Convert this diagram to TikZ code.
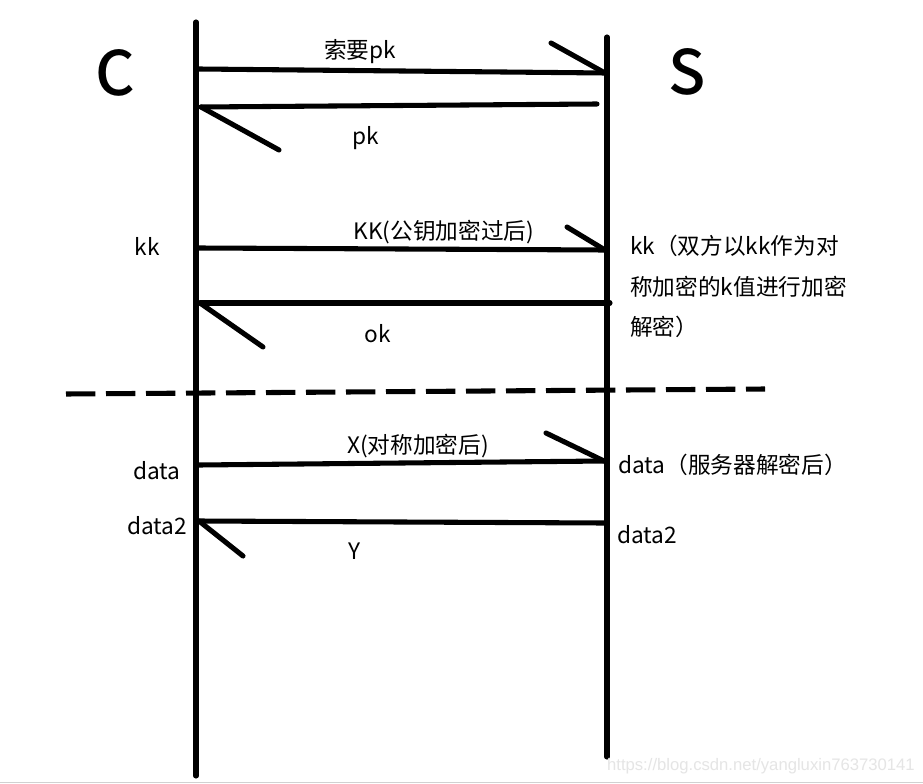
\documentclass[tikz,border=0pt]{standalone}
\usepackage{fontspec}
\setmainfont{Noto Sans CJK SC}
\newfontfamily\wmfont{Liberation Sans}
\newfontfamily\medfont{Noto Sans CJK SC Medium}
\begin{document}
\begin{tikzpicture}[x=0.75pt,y=-0.75pt,
  life/.style={line width=3.8pt,line cap=round},
  msg/.style={line width=3.8pt,line cap=round},
  barb/.style={line width=3.8pt,line cap=round},
  lbl/.style={inner sep=0pt,font=\fontsize{17}{20}\selectfont},
  big/.style={inner sep=0pt,font=\medfont\fontsize{46}{50}\selectfont},
  sep/.style={line width=3.8pt,dash pattern=on 22pt off 8pt}]
\useasboundingbox (0,0) rectangle (923,784);
\fill[white] (0,0) rectangle (923,784);
% lifelines
\coordinate (ctop) at (196,22);
\coordinate (cbot) at (196,776);
\coordinate (stop) at (607,37);
\coordinate (sbot) at (607,757);
\draw[life] (ctop) -- (cbot);
\draw[life] (stop) -- (sbot);
% titles
\node[big] (C) at (115,73) {C};
\node[big] (S) at (687,72) {S};
% message 1
\coordinate (m1a) at (199,69);
\coordinate (m1b) at (605,73);
\coordinate (m1h) at (551,43);
\draw[msg] (m1a) -- (m1b);
\draw[barb] (m1h) -- (m1b);
\node[lbl] (l1) at (360,52) {索要pk};
% message 2
\coordinate (m2a) at (597,104);
\coordinate (m2b) at (201,107);
\coordinate (m2h) at (279,150);
\draw[msg] (m2a) -- (m2b);
\draw[barb] (m2b) -- (m2h);
\node[lbl] (l2) at (366,138) {pk};
% message 3
\node[lbl] (kk) at (147,246) {kk};
\coordinate (m3a) at (199,248);
\coordinate (m3b) at (605,250);
\coordinate (m3h) at (567,227);
\draw[msg] (m3a) -- (m3b);
\draw[barb] (m3h) -- (m3b);
\node[lbl] (l3) at (444,232) {KK(公钥加密过后)};
\node[lbl,anchor=west] (r3a) at (630,246) {kk（双方以kk作为对};
\node[lbl,anchor=west] (r3b) at (630,287) {称加密的k值进行加密};
\node[lbl,anchor=west] (r3c) at (630,327) {解密）};
% message 4
\coordinate (m4a) at (610,303);
\coordinate (m4b) at (200,303);
\coordinate (m4h) at (263,347);
\draw[msg] (m4a) -- (m4b);
\draw[barb] (m4b) -- (m4h);
\node[lbl] (l4) at (378,334) {ok};
% separator
\coordinate (sepa) at (66,394);
\coordinate (sepb) at (765,389);
\draw[sep] (sepa) -- (sepb);
% message 5
\node[lbl] (d1) at (157,471) {data};
\coordinate (m5a) at (199,465);
\coordinate (m5b) at (604,461);
\coordinate (m5h) at (546,433);
\draw[msg] (m5a) -- (m5b);
\draw[barb] (m5h) -- (m5b);
\node[lbl] (l5) at (418,446) {X(对称加密后)};
\node[lbl,anchor=west] (r5) at (618,465) {data（服务器解密后）};
% message 6
\node[lbl] (d2) at (157,526) {data2};
\coordinate (m6a) at (604,523);
\coordinate (m6b) at (199,521);
\coordinate (m6h) at (243,556);
\draw[msg] (m6a) -- (m6b);
\draw[barb] (m6b) -- (m6h);
\node[lbl] (l6) at (355,551) {Y};
\node[lbl,anchor=west] (r6) at (617,535) {data2};
% watermark and bottom rule
\node[inner sep=0pt,anchor=east,text=black!10,font=\wmfont\fontsize{12.5}{14}\selectfont] (wm) at (915,766) {https://blog.csdn.net/yangluxin763730141};
\coordinate (bl) at (0,782.5);
\coordinate (br) at (923,782.5);
\draw[black!18,line width=1.2pt] (bl) -- (br);
\end{tikzpicture}
\end{document}
